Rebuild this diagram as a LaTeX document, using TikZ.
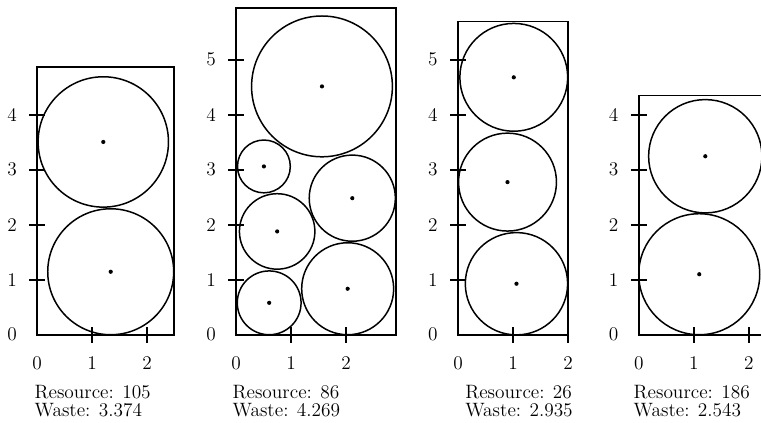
\documentclass[tikz,border=0pt]{standalone}
\begin{document}
\fontsize{11}{13}\selectfont
\begin{tikzpicture}[x=1.1cm,y=1.1cm,
  frame/.style={line width=1.1pt},
  circ/.style={line width=0.85pt},
  tickmark/.style={line width=1.1pt},
  ctr/.style={fill=black},
  lbl/.style={inner sep=0pt},
  info/.style={inner sep=0pt, anchor=base west},
]
\useasboundingbox (0,0) rectangle (13.836,7.673);
\clip (0,0) rectangle (13.836,7.673);

% Panel 1
\begin{scope}[shift={(0.673,1.587)}]
  \draw[frame] (0,0) rectangle (2.485,4.87);
  \foreach \i in {1,2} \draw[tickmark] (\i,-0.145) -- (\i,0.145);
  \foreach \i in {1,...,4} \draw[tickmark] (-0.145,\i) -- (0.145,\i);
  \foreach \i in {0,1,2} \node[lbl] (pax\i) at (\i,-0.51) {\i};
  \foreach \i in {0,...,4} \node[lbl] (pay\i) at (-0.455,\i) {\i};
  \draw[circ] (1.205,3.505) circle (1.185);
  \fill[ctr] (1.205,3.505) circle (0.038);
  \draw[circ] (1.34,1.145) circle (1.145);
  \fill[ctr] (1.34,1.145) circle (0.038);
  \node[info] (par) at (-0.049,-1.156) {Resource: 105};
  \node[info] (paw) at (-0.049,-1.491) {Waste: 3.374};
\end{scope}

% Panel 2
\begin{scope}[shift={(4.291,1.587)}]
  \draw[frame] (0,0) rectangle (2.91,5.945);
  \foreach \i in {1,2} \draw[tickmark] (\i,-0.145) -- (\i,0.145);
  \foreach \i in {1,...,5} \draw[tickmark] (-0.145,\i) -- (0.145,\i);
  \foreach \i in {0,1,2} \node[lbl] (pbx\i) at (\i,-0.51) {\i};
  \foreach \i in {0,...,5} \node[lbl] (pby\i) at (-0.455,\i) {\i};
  \foreach \cx/\cy/\r in {1.563/4.515/1.28, 0.507/3.06/0.48, 2.114/2.483/0.783,
                          0.748/1.878/0.686, 2.03/0.836/0.836, 0.603/0.58/0.58} {
    \draw[circ] (\cx,\cy) circle (\r);
    \fill[ctr] (\cx,\cy) circle (0.038);
  }
  \node[info] (pbr) at (-0.067,-1.156) {Resource: 86};
  \node[info] (pbw) at (-0.067,-1.491) {Waste: 4.269};
\end{scope}

% Panel 3
\begin{scope}[shift={(8.327,1.587)}]
  \draw[frame] (0,0) rectangle (2.0,5.695);
  \foreach \i in {1,2} \draw[tickmark] (\i,-0.145) -- (\i,0.145);
  \foreach \i in {1,...,5} \draw[tickmark] (-0.145,\i) -- (0.145,\i);
  \foreach \i in {0,1,2} \node[lbl] (pcx\i) at (\i,-0.51) {\i};
  \foreach \i in {0,...,5} \node[lbl] (pcy\i) at (-0.455,\i) {\i};
  \foreach \cx/\cy/\r in {1.014/4.68/0.98, 0.90/2.775/0.89, 1.063/0.927/0.93} {
    \draw[circ] (\cx,\cy) circle (\r);
    \fill[ctr] (\cx,\cy) circle (0.038);
  }
  \node[info] (pcr) at (0.127,-1.156) {Resource: 26};
  \node[info] (pcw) at (0.127,-1.491) {Waste: 2.935};
\end{scope}

% Panel 4
\begin{scope}[shift={(11.613,1.587)}]
  \draw[frame] (0,0) rectangle (2.4,4.35);
  \foreach \i in {1,2} \draw[tickmark] (\i,-0.145) -- (\i,0.145);
  \foreach \i in {1,...,4} \draw[tickmark] (-0.145,\i) -- (0.145,\i);
  \foreach \i in {0,1,2} \node[lbl] (pdx\i) at (\i,-0.51) {\i};
  \foreach \i in {0,...,4} \node[lbl] (pdy\i) at (-0.455,\i) {\i};
  \foreach \cx/\cy/\r in {1.21/3.245/1.03, 1.10/1.10/1.10} {
    \draw[circ] (\cx,\cy) circle (\r);
    \fill[ctr] (\cx,\cy) circle (0.038);
  }
  \node[info] (pdr) at (-0.098,-1.156) {Resource: 186};
  \node[info] (pdw) at (-0.098,-1.491) {Waste: 2.543};
\end{scope}
\end{tikzpicture}
\end{document}
